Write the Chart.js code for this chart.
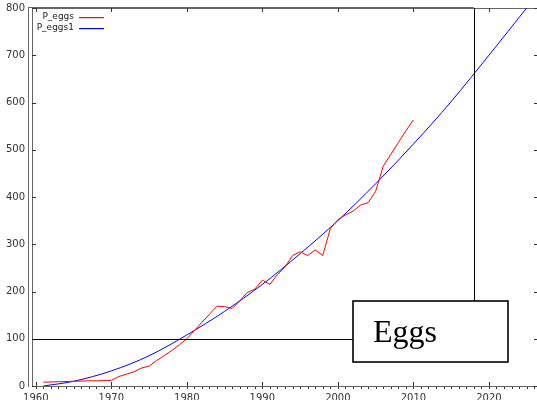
<!DOCTYPE html>
<html>
<head>
<meta charset="UTF-8">
<title>P_eggs</title>
<script src="https://cdn.jsdelivr.net/npm/chart.js"></script>
<style>
  html, body { margin: 0; padding: 0; background: #fff; overflow: hidden; }
  #c { display: block; margin-top: -5px; }
</style>
</head>
<body>
<canvas id="c" width="540" height="405"></canvas>
<script>
const years = [1961,1962,1963,1964,1965,1966,1967,1968,1969,1970,
               1971,1972,1973,1974,1975,1976,1977,1978,1979,1980,
               1981,1982,1983,1984,1985,1986,1987,1988,1989,1990,
               1991,1992,1993,1994,1995,1996,1997,1998,1999,2000,
               2001,2002,2003,2004,2005,2006,2007,2008,2009,2010];
const eggs = [8,8.5,9,9.5,10,10.5,11,11,11.5,12,
              20,25,30,38,42,54,64,75,87,100,
              117,135,152,169,168,164,180,198,205,224,
              215,236,252,276,284,276,288,276,333,352,
              362,370,383,388,412,465,490,515,540,563];

// fitted curve
const fitYears = [1961,1965,1970,1975,1980,1985,1990,1995,2000,2005,2010,2015,2020,2025];
const fitValues = [0,10,32,64,108,158,215,280,350,428,512,602,700,800];

const xTicks = [1960,1970,1980,1990,2000,2010,2020];
const yTicks = [0,100,200,300,400,500,600,700,800];
const seriesColors = ['#ff0000', '#0000ff'];
const markValue = 100;
const markYear = 2018;
const boxLabel = 'Eggs';

const pts = (xs, ys) => xs.map((v, i) => ({ x: v, y: ys[i] }));

const frame = {
  id: 'frame',
  beforeDatasetsDraw(chart) {
    const { ctx, chartArea: a, scales: { x, y } } = chart;
    ctx.save();
    ctx.strokeStyle = '#666';
    ctx.lineWidth = 1;
    ctx.strokeRect(a.left + 0.5, a.top + 0.5, a.right - a.left, a.bottom - a.top);
    ctx.beginPath();
    ctx.moveTo(a.left - 3.5, a.top - 1); ctx.lineTo(a.left - 3.5, a.bottom + 1);
    ctx.moveTo(a.left - 3.5, a.top - 0.5); ctx.lineTo(x.getPixelForValue(markYear), a.top - 0.5);
    ctx.stroke();
    ctx.strokeStyle = '#333';
    ctx.beginPath();
    xTicks.forEach(v => {
      const px = Math.round(x.getPixelForValue(v)) + 0.5;
      ctx.moveTo(px, a.bottom); ctx.lineTo(px, a.bottom - 4);
      ctx.moveTo(px, a.top); ctx.lineTo(px, a.top + 4);
    });
    yTicks.forEach(v => {
      const py = Math.round(y.getPixelForValue(v)) + 0.5;
      ctx.moveTo(a.left, py); ctx.lineTo(a.left + 4, py);
      ctx.moveTo(a.right, py); ctx.lineTo(a.right - 4, py);
    });
    ctx.stroke();
    ctx.beginPath();
    for (let yr = 1960; yr <= 2026; yr++) {
      const px = Math.round(x.getPixelForValue(yr)) + 0.5;
      ctx.moveTo(px, a.bottom + 1); ctx.lineTo(px, a.bottom + 3);
    }
    ctx.stroke();
    ctx.restore();
  },
  afterDatasetsDraw(chart) {
    const { ctx, chartArea: a, scales: { x, y } } = chart;
    ctx.save();
    // legend (canvas is shifted 5px up on the page)
    ctx.font = '9px "DejaVu Sans", sans-serif';
    ctx.textAlign = 'right';
    ctx.textBaseline = 'middle';
    chart.data.datasets.forEach((ds, i) => {
      const ly = 21.5 + i * 11;
      ctx.fillStyle = '#222';
      ctx.fillText(ds.label, 74, ly);
      ctx.fillStyle = seriesColors[i];
      ctx.fillRect(79, Math.round(ly), 25, 1.2);
    });
    // annotation: reference lines and label box
    const bx = 353, by = 306, bw = 155, bh = 61;
    ctx.strokeStyle = '#000';
    ctx.lineWidth = 1;
    ctx.beginPath();
    const hy = Math.round(y.getPixelForValue(markValue)) + 0.5;
    ctx.moveTo(a.left, hy); ctx.lineTo(bx, hy);
    const vx = Math.round(x.getPixelForValue(markYear)) + 0.5;
    ctx.moveTo(vx, a.top); ctx.lineTo(vx, by);
    ctx.stroke();
    ctx.fillStyle = '#fff';
    ctx.fillRect(bx, by, bw, bh);
    ctx.lineWidth = 1.6;
    ctx.strokeRect(bx, by, bw, bh);
    ctx.fillStyle = '#000';
    ctx.font = '32px "Liberation Serif", serif';
    ctx.textAlign = 'left';
    ctx.textBaseline = 'alphabetic';
    ctx.fillText(boxLabel, 373, 347);
    ctx.restore();
  }
};

new Chart(document.getElementById('c'), {
  type: 'line',
  data: {
    datasets: [
      { label: 'P_eggs', data: pts(years, eggs), borderColor: seriesColors[0], borderWidth: 1, pointRadius: 0, tension: 0 },
      { label: 'P_eggs1', data: pts(fitYears, fitValues), borderColor: seriesColors[1], borderWidth: 1, pointRadius: 0, cubicInterpolationMode: 'monotone' }
    ]
  },
  options: {
    responsive: false,
    animation: false,
    events: [],
    layout: { padding: { top: 0, right: 2, left: 0, bottom: 0 } },
    plugins: { legend: { display: false }, tooltip: { enabled: false } },
    scales: {
      x: {
        type: 'linear', min: 1959.5, max: 2026.5,
        afterBuildTicks: s => { s.ticks = xTicks.map(v => ({ value: v })); },
        afterFit: s => { s.height = 14; },
        grid: { display: false, drawTicks: false },
        border: { display: false },
        ticks: { padding: 6, color: '#333', font: { size: 10, family: 'DejaVu Sans' }, maxRotation: 0, callback: v => String(v) }
      },
      y: {
        type: 'linear', min: 0, max: 800,
        afterBuildTicks: s => { s.ticks = yTicks.map(v => ({ value: v })); },
        afterFit: s => { s.width = 32; },
        grid: { display: false, drawTicks: false },
        border: { display: false },
        ticks: { padding: 7, color: '#333', font: { size: 10, family: 'DejaVu Sans' }, callback: v => String(v) }
      }
    }
  },
  plugins: [frame]
});
</script>
</body>
</html>
